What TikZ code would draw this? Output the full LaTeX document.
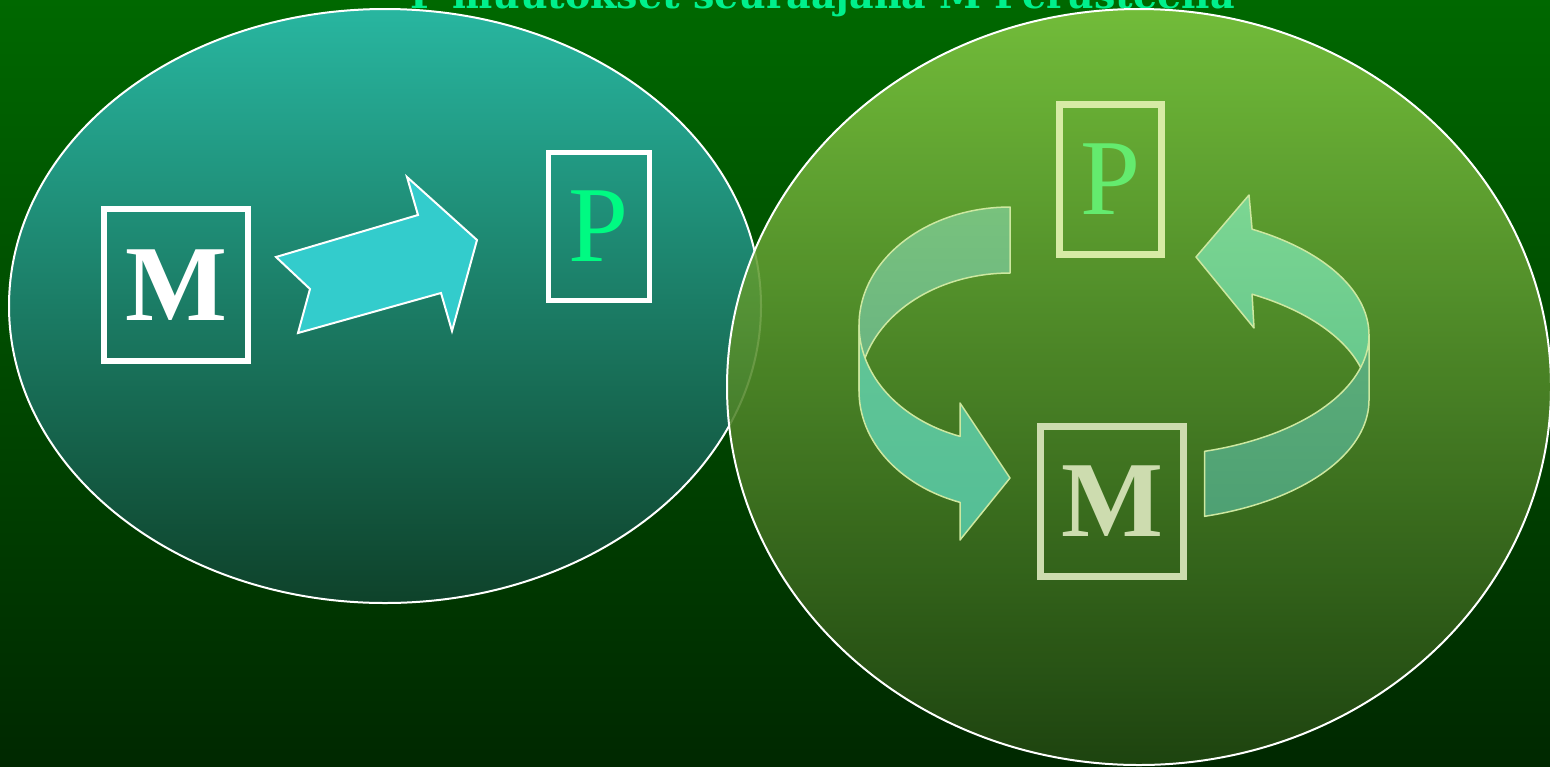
\documentclass[tikz,border=0pt]{standalone}
\usepackage{fontspec}
\setmainfont{Liberation Serif}
\newfontfamily\titlefont{DejaVu Serif}
\definecolor{bgtop}{RGB}{0,104,0}
\definecolor{bgbot}{RGB}{0,40,0}
\definecolor{ltop}{RGB}{40,182,160}
\definecolor{lbot}{RGB}{14,66,42}
\definecolor{rtop}{RGB}{130,200,66}
\definecolor{rbot}{RGB}{34,72,18}
\definecolor{titlegreen}{RGB}{0,240,140}
\definecolor{arrowcyan}{RGB}{51,204,204}
\definecolor{pbright}{RGB}{0,250,130}
\definecolor{pgreen}{RGB}{100,235,110}
\definecolor{pframe}{RGB}{215,235,165}
\definecolor{mpale}{RGB}{205,220,175}
\definecolor{ribline}{RGB}{205,232,160}
\definecolor{lbacktop}{RGB}{120,194,125}
\definecolor{lbackbot}{RGB}{104,178,130}
\definecolor{lfronttop}{RGB}{98,198,150}
\definecolor{lfrontbot}{RGB}{84,190,150}
\definecolor{rbacktop}{RGB}{124,214,146}
\definecolor{rbackbot}{RGB}{100,198,140}
\definecolor{rfronttop}{RGB}{92,174,122}
\definecolor{rfrontbot}{RGB}{78,160,115}
\tikzset{
  letterbox/.style={inner sep=0pt, font=\fontsize{54}{54}\selectfont},
  ribbon/.style={draw=ribline, line width=0.75pt, line join=round},
}
\begin{document}
\begin{tikzpicture}[x=0.5pt,y=-0.5pt]
\useasboundingbox (0,0) rectangle (1550,766);
\clip (0,0) rectangle (1550,766);
% background
\shade[top color=bgtop, bottom color=bgbot] (0,0) rectangle (1550,766);
% title (cut off at the top, as in the reference)
\node[anchor=base west, text=titlegreen, inner sep=0pt,
      font=\titlefont\bfseries\fontsize{19}{19}\selectfont] (title) at (410,8)
      {P muutokset seuraajana M Perusteella};
% left ellipse
\shade[top color=ltop, bottom color=lbot] (385,306) ellipse [x radius=188pt, y radius=148.5pt];
\draw[white, line width=1pt] (385,306) ellipse [x radius=188pt, y radius=148.5pt];
% right ellipse
\shade[top color=rtop, bottom color=rbot, fill opacity=0.88] (1139,387) ellipse [x radius=206pt, y radius=189pt];
\draw[white, line width=1pt] (1139,387) ellipse [x radius=206pt, y radius=189pt];
% left block arrow
\filldraw[fill=arrowcyan, draw=white, line width=1pt, line join=miter]
  (276,257) -- (418,215) -- (407,177) -- (477,240) -- (452,331) -- (441,293) -- (298,333) -- (310,289) -- cycle;
% left boxes
\node[letterbox, draw=white, line width=3pt, minimum width=72pt, minimum height=76pt,
      text=white, font=\fontsize{54}{54}\selectfont\bfseries] (mleft) at (176,285) {M};
\node[letterbox, draw=white, line width=2.5pt, minimum width=50.5pt, minimum height=74pt,
      text=pbright] (pleft) at (599,226.5) {P};
% left ribbon arrow: back part
\shade[top color=lbacktop, bottom color=lbackbot]
  plot[domain=270:180, samples=40] ({1010+151*cos(\x)},{325+118*sin(\x)})
  -- plot[domain=180:270, samples=40] ({1010+151*cos(\x)},{391+118*sin(\x)}) -- cycle;
\draw[ribbon]
  plot[domain=270:180, samples=40] ({1010+151*cos(\x)},{325+118*sin(\x)})
  -- plot[domain=180:270, samples=40] ({1010+151*cos(\x)},{391+118*sin(\x)}) -- cycle;
% left ribbon arrow: front part with head
\shade[top color=lfronttop, bottom color=lfrontbot]
  plot[domain=180:109.3, samples=40] ({1010+151*cos(\x)},{325+118*sin(\x)})
  -- (960,403) -- (1010,478) -- (960,540)
  -- plot[domain=109.3:180, samples=40] ({1010+151*cos(\x)},{391+118*sin(\x)}) -- cycle;
\draw[ribbon]
  plot[domain=180:109.3, samples=40] ({1010+151*cos(\x)},{325+118*sin(\x)})
  -- (960,403) -- (1010,478) -- (960,540)
  -- plot[domain=109.3:180, samples=40] ({1010+151*cos(\x)},{391+118*sin(\x)}) -- cycle;
% right ribbon arrow: back part with head
\shade[top color=rbacktop, bottom color=rbackbot]
  plot[domain=299:360, samples=40] ({1142+227*cos(\x)},{335+121*sin(\x)})
  -- plot[domain=360:299, samples=40] ({1142+227*cos(\x)},{400+121*sin(\x)})
  -- (1254,328) -- (1196,257) -- (1249,195) -- cycle;
\draw[ribbon]
  plot[domain=299:360, samples=40] ({1142+227*cos(\x)},{335+121*sin(\x)})
  -- plot[domain=360:299, samples=40] ({1142+227*cos(\x)},{400+121*sin(\x)})
  -- (1254,328) -- (1196,257) -- (1249,195) -- cycle;
% right ribbon arrow: front part
\shade[top color=rfronttop, bottom color=rfrontbot]
  plot[domain=0:74, samples=40] ({1142+227*cos(\x)},{335+121*sin(\x)})
  -- plot[domain=74:0, samples=40] ({1142+227*cos(\x)},{400+121*sin(\x)}) -- cycle;
\draw[ribbon]
  plot[domain=0:74, samples=40] ({1142+227*cos(\x)},{335+121*sin(\x)})
  -- plot[domain=74:0, samples=40] ({1142+227*cos(\x)},{400+121*sin(\x)}) -- cycle;
% right boxes
\node[letterbox, draw=pframe, line width=3.5pt, minimum width=51pt, minimum height=75pt,
      text=pgreen] (pright) at (1110.5,179.5) {P};
\node[letterbox, draw=mpale, line width=3.5pt, minimum width=71.5pt, minimum height=75pt,
      text=mpale, font=\fontsize{54}{54}\selectfont\bfseries] (mright) at (1112,501.5) {M};
\end{tikzpicture}
\end{document}
